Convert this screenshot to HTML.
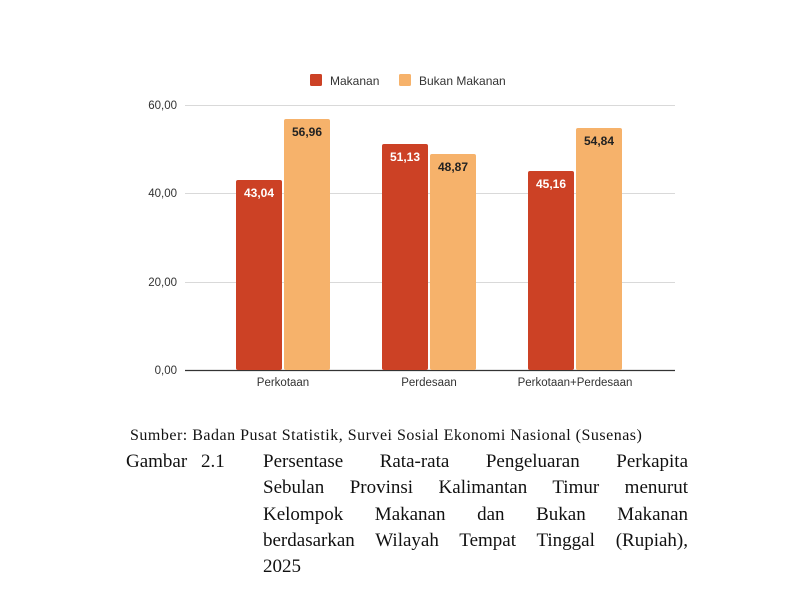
<!DOCTYPE html>
<html><head><style>
body{margin:0;background:#fff;width:800px;height:589px;overflow:hidden;position:relative;font-family:"Liberation Sans",sans-serif}
.t{position:absolute;white-space:nowrap}
.s{font-family:"Liberation Serif",serif;color:#111}
.j{position:absolute;left:263px;width:425px;text-align:justify;text-align-last:justify;font-family:"Liberation Serif",serif;font-size:19px;color:#111;white-space:nowrap}
</style></head><body>
<svg width="800" height="430" style="position:absolute;left:0;top:0" font-family="Liberation Sans, sans-serif">
<g stroke="#d9d9d9" stroke-width="1">
<line x1="185" y1="105.5" x2="675" y2="105.5"/>
<line x1="185" y1="193.5" x2="675" y2="193.5"/>
<line x1="185" y1="282.5" x2="675" y2="282.5"/>
</g>
<line x1="185" y1="370.5" x2="675" y2="370.5" stroke="#333" stroke-width="1.2"/>
<g font-size="11.5" fill="#333" text-anchor="end">
<text x="177" y="109">60,00</text><text x="177" y="197">40,00</text><text x="177" y="286">20,00</text><text x="177" y="374">0,00</text>
</g>
<rect x="310" y="74" width="12" height="12" rx="1.5" fill="#cc4125"/>
<text x="330" y="85" font-size="12" fill="#333">Makanan</text>
<rect x="399" y="74" width="12" height="12" rx="1.5" fill="#f6b26b"/>
<text x="419" y="85" font-size="12" fill="#333">Bukan Makanan</text>
<g>
<rect x="236" y="180" width="46" height="190" rx="2" fill="#cc4125"/>
<rect x="284" y="119" width="46" height="251" rx="2" fill="#f6b26b"/>
<rect x="382" y="144" width="46" height="226" rx="2" fill="#cc4125"/>
<rect x="430" y="154" width="46" height="216" rx="2" fill="#f6b26b"/>
<rect x="528" y="171" width="46" height="199" rx="2" fill="#cc4125"/>
<rect x="576" y="128" width="46" height="242" rx="2" fill="#f6b26b"/>
</g>
<g font-size="12" font-weight="bold" text-anchor="middle">
<text x="259" y="197" fill="#fff">43,04</text>
<text x="307" y="136" fill="#222">56,96</text>
<text x="405" y="161" fill="#fff">51,13</text>
<text x="453" y="171" fill="#222">48,87</text>
<text x="551" y="188" fill="#fff">45,16</text>
<text x="599" y="145" fill="#222">54,84</text>
</g>
<g font-size="11.5" fill="#333" text-anchor="middle">
<text x="283" y="386">Perkotaan</text><text x="429" y="386">Perdesaan</text><text x="575" y="386">Perkotaan+Perdesaan</text>
</g>
</svg>
<div class="t s" style="left:130px;top:427px;font-size:16px;letter-spacing:0.5px">Sumber: Badan Pusat Statistik, Survei Sosial Ekonomi Nasional (Susenas)</div>
<div class="t s" style="left:126px;top:451px;font-size:19px;word-spacing:9px">Gambar 2.1</div>
<div class="j" style="top:451px">Persentase Rata-rata Pengeluaran Perkapita</div>
<div class="j" style="top:477px">Sebulan Provinsi Kalimantan Timur menurut</div>
<div class="j" style="top:504px">Kelompok Makanan dan Bukan Makanan</div>
<div class="j" style="top:530px">berdasarkan Wilayah Tempat Tinggal (Rupiah),</div>
<div class="t s" style="left:263px;top:556px;font-size:19px">2025</div>
</body></html>
